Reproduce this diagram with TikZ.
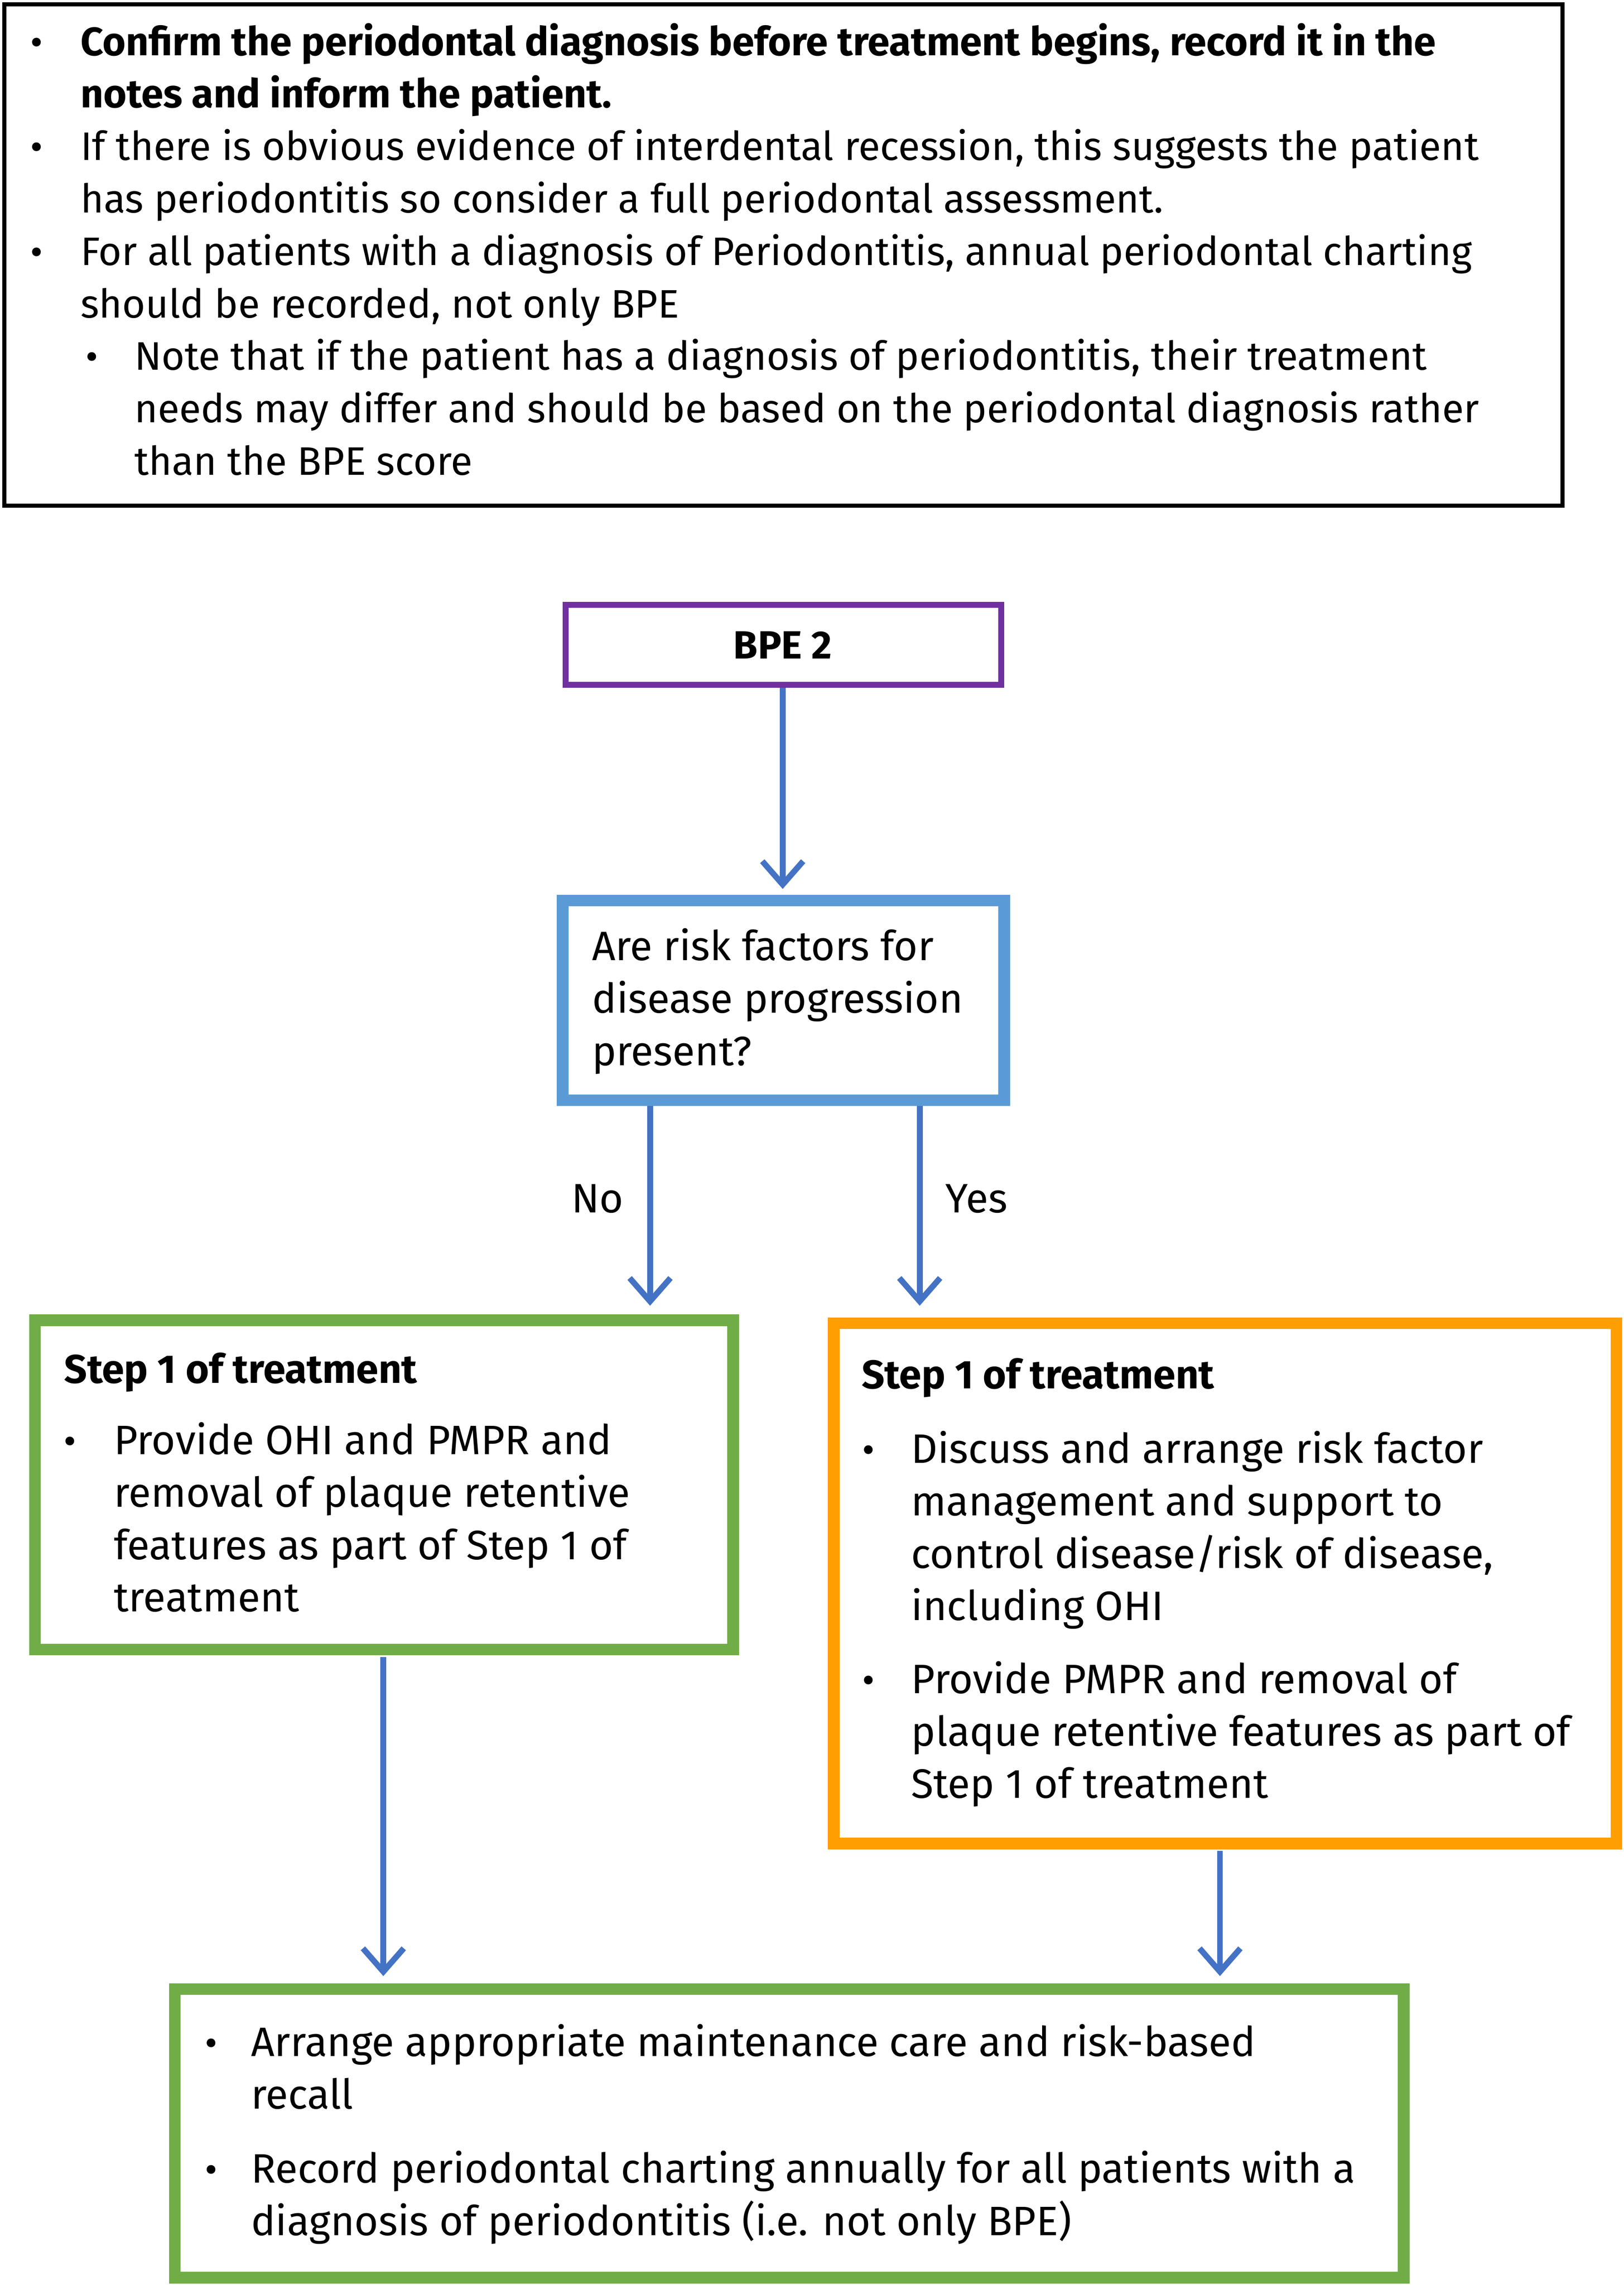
\documentclass[tikz,border=0pt]{standalone}
\usepackage{fontspec}
\setmainfont{Fira Sans}
\usetikzlibrary{arrows.meta}
\definecolor{purp}{HTML}{7030A0}
\definecolor{lblue}{HTML}{5B9BD5}
\definecolor{arr}{HTML}{4472C4}
\definecolor{grn}{HTML}{70AD47}
\definecolor{org}{HTML}{FF9E00}
\begin{document}
\begin{tikzpicture}[x=1pt,y=1pt,
 ttxt/.style={anchor=base west,inner sep=0pt,align=left,font=\fontsize{27.3}{36}\selectfont},
 txt/.style={anchor=base west,inner sep=0pt,align=left,font=\fontsize{28.2}{36}\selectfont},
 lab/.style={anchor=base,inner sep=0pt,font=\fontsize{28.2}{36}\selectfont},
 bul/.style={anchor=base,inner sep=0pt,font=\fontsize{26.5}{36}\selectfont},
 flow/.style={draw=arr,line width=4pt,-{Straight Barb[length=16pt,width=28pt,line width=4pt]}}]
\useasboundingbox (0,0) rectangle (1114,-1568);
% top box
\draw[line width=3pt] (3,-3) rectangle (1072,-347);
\node[bul] (b1) at (25,-38) {•};
\node[ttxt] (t1) at (55,-74) {\bfseries Confirm the periodontal diagnosis before treatment begins, record it in the\\\bfseries notes and inform the patient.};
\node[bul] (b2) at (25,-110) {•};
\node[ttxt] (t2) at (55,-146) {If there is obvious evidence of interdental recession, this suggests the patient\\has periodontitis so consider a full periodontal assessment.};
\node[bul] (b3) at (25,-182) {•};
\node[ttxt] (t3) at (55,-218) {For all patients with a diagnosis of Periodontitis, annual periodontal charting\\should be recorded, not only BPE};
\node[bul] (b4) at (63,-254) {•};
\node[ttxt] (t4) at (92,-326) {Note that if the patient has a diagnosis of periodontitis, their treatment\\needs may differ and should be based on the periodontal diagnosis rather\\than the BPE score};
% BPE 2
\draw[purp,line width=4pt] (388,-415) rectangle (687,-470);
\node[lab,font=\fontsize{27}{36}\selectfont\bfseries] (bpe) at (537,-452) {BPE 2};
\coordinate (bpeb) at (537,-472);
% risk box
\draw[lblue,line width=8pt] (386,-618) rectangle (689,-755);
\node[txt] (risk) at (406,-731) {Are risk factors for\\disease progression\\present?};
\coordinate (riskt) at (537,-610);
\draw[flow] (bpeb) -- (riskt);
\coordinate (noA) at (446,-759); \coordinate (noB) at (446,-896);
\coordinate (yesA) at (631,-759); \coordinate (yesB) at (631,-896);
\draw[flow] (noA) -- (noB);
\draw[flow] (yesA) -- (yesB);
\node[lab] (no) at (410,-832) {No};
\node[lab] (yes) at (670,-832) {Yes};
% left green
\draw[grn,line width=8pt] (24,-906) rectangle (503,-1132);
\node[txt,font=\fontsize{27.5}{36}\selectfont\bfseries] (lt) at (44,-949) {Step 1 of treatment};
\node[bul] (lb) at (48,-998) {•};
\node[txt] (lx) at (78,-1106) {Provide OHI and PMPR and\\removal of plaque retentive\\features as part of Step 1 of\\treatment};
% orange
\draw[org,line width=8pt] (572,-908) rectangle (1109,-1265);
\node[txt,font=\fontsize{27.5}{36}\selectfont\bfseries] (ot) at (591,-953) {Step 1 of treatment};
\node[bul] (ob1) at (596,-1004) {•};
\node[txt] (ox1) at (625,-1112) {Discuss and arrange risk factor\\management and support to\\control disease/risk of disease,\\including OHI};
\node[bul] (ob2) at (596,-1162) {•};
\node[txt] (ox2) at (625,-1234) {Provide PMPR and removal of\\plaque retentive features as part of\\Step 1 of treatment};
% arrows down
\coordinate (lA) at (263,-1137); \coordinate (lB) at (263,-1356);
\coordinate (rA) at (837,-1270); \coordinate (rB) at (837,-1356);
\draw[flow] (lA) -- (lB);
\draw[flow] (rA) -- (rB);
% bottom
\draw[grn,line width=8pt] (120,-1365) rectangle (963,-1563);
\node[bul] (bb1) at (145,-1411) {•};
\node[txt] (bx1) at (172,-1447) {Arrange appropriate maintenance care and risk-based\\recall};
\node[bul] (bb2) at (145,-1498) {•};
\node[txt] (bx2) at (172,-1534) {Record periodontal charting annually for all patients with a\\diagnosis of periodontitis (i.e. not only BPE)};
\end{tikzpicture}
\end{document}
